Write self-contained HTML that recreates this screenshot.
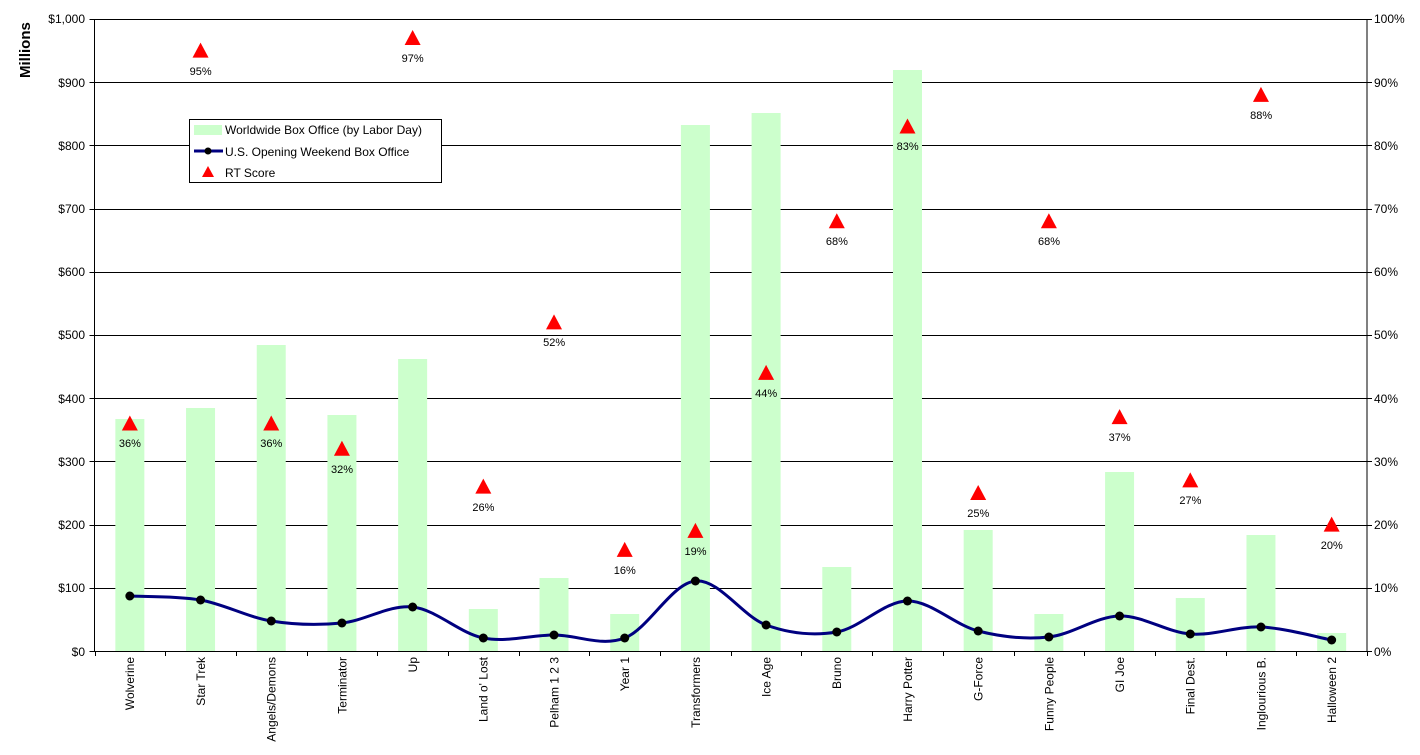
<!DOCTYPE html>
<html><head><meta charset="utf-8"><style>
html,body{margin:0;padding:0;background:#fff;}
svg{display:block;font-family:"Liberation Sans",Arial,sans-serif;}
</style></head><body>
<svg id="s" width="1420" height="755" viewBox="0 0 1420 755" xmlns="http://www.w3.org/2000/svg">
<g id="grid"></g>
<g id="bars"></g>
<g id="line"></g>
<g id="tri"></g>
<g font-size="12" fill="#000" text-anchor="end">
<text x="85" y="23">$1,000</text><text x="85" y="87">$900</text><text x="85" y="150">$800</text><text x="85" y="213">$700</text><text x="85" y="276">$600</text><text x="85" y="339">$500</text><text x="85" y="403">$400</text><text x="85" y="466">$300</text><text x="85" y="529">$200</text><text x="85" y="592">$100</text><text x="85" y="656">$0</text>
</g>
<g font-size="12" fill="#000">
<text x="1374" y="23">100%</text><text x="1374" y="87">90%</text><text x="1374" y="150">80%</text><text x="1374" y="213">70%</text><text x="1374" y="276">60%</text><text x="1374" y="339">50%</text><text x="1374" y="403">40%</text><text x="1374" y="466">30%</text><text x="1374" y="529">20%</text><text x="1374" y="592">10%</text><text x="1374" y="656">0%</text>
</g>
<text transform="translate(30,78) rotate(-90)" font-size="15" font-weight="bold">Millions</text>
<g font-size="12" text-anchor="end">
<text transform="translate(134.2,657) rotate(-90)">Wolverine</text>
<text transform="translate(204.9,657) rotate(-90)">Star Trek</text>
<text transform="translate(275.6,657) rotate(-90)">Angels/Demons</text>
<text transform="translate(346.3,657) rotate(-90)">Terminator</text>
<text transform="translate(417,657) rotate(-90)">Up</text>
<text transform="translate(487.7,657) rotate(-90)">Land o' Lost</text>
<text transform="translate(558.4,657) rotate(-90)">Pelham 1 2 3</text>
<text transform="translate(629.1,657) rotate(-90)">Year 1</text>
<text transform="translate(699.8,657) rotate(-90)">Transformers</text>
<text transform="translate(770.5,657) rotate(-90)">Ice Age</text>
<text transform="translate(841.2,657) rotate(-90)">Bruno</text>
<text transform="translate(911.9,657) rotate(-90)">Harry Potter</text>
<text transform="translate(982.6,657) rotate(-90)">G-Force</text>
<text transform="translate(1053.3,657) rotate(-90)">Funny People</text>
<text transform="translate(1124,657) rotate(-90)">GI Joe</text>
<text transform="translate(1194.7,657) rotate(-90)">Final Dest.</text>
<text transform="translate(1265.4,657) rotate(-90)">Inglourious B.</text>
<text transform="translate(1336.1,657) rotate(-90)">Halloween 2</text>
</g>
<g font-size="11" text-anchor="middle">
<text x="129.9" y="447">36%</text><text x="200.6" y="75">95%</text><text x="271.3" y="447">36%</text><text x="342" y="473">32%</text><text x="412.7" y="62">97%</text><text x="483.4" y="511">26%</text><text x="554.1" y="346">52%</text><text x="624.8" y="574">16%</text><text x="695.5" y="555">19%</text><text x="766.2" y="397">44%</text><text x="836.9" y="245">68%</text><text x="907.6" y="150">83%</text><text x="978.3" y="517">25%</text><text x="1049" y="245">68%</text><text x="1119.7" y="441">37%</text><text x="1190.4" y="504">27%</text><text x="1261.1" y="119">88%</text><text x="1331.8" y="549">20%</text>
</g>
<g>
<rect x="189.5" y="119.5" width="252" height="63" fill="#fff" stroke="#000"/>
<rect x="194" y="125" width="28" height="10" fill="#ccffcc"/>
<text x="225" y="134" font-size="12">Worldwide Box Office (by Labor Day)</text>
<line x1="194" y1="151" x2="223" y2="151" stroke="#000080" stroke-width="3"/>
<circle cx="208" cy="151" r="3.5" fill="#000"/>
<text x="225" y="156" font-size="12">U.S. Opening Weekend Box Office</text>
<polygon points="208,166 202,177 214,177" fill="#ff0000"/>
<text x="225" y="177" font-size="12">RT Score</text>
</g>
</svg>
<script>
var NS="http://www.w3.org/2000/svg";
function el(p,t,a){var e=document.createElementNS(NS,t);for(var k in a)e.setAttribute(k,a[k]);document.getElementById(p).appendChild(e);return e;}
var L=94.5,R=1367,T=19,B=651,cw=(R-L)/18;
for(var i=0;i<=10;i++){var y=Math.round(T+(B-T)*i/10)+0.5;el('grid','line',{x1:L,y1:y,x2:R,y2:y,stroke:'#000','stroke-width':1});
el('grid','line',{x1:L-5,y1:y,x2:L,y2:y,stroke:'#000'});el('grid','line',{x1:R,y1:y,x2:R+5,y2:y,stroke:'#000'});}
el('grid','line',{x1:L,y1:T,x2:L,y2:B+0.5,stroke:'#000'});
el('grid','line',{x1:R,y1:T,x2:R,y2:B+0.5,stroke:'#000'});
for(var i=0;i<=18;i++){var x=Math.round(L+cw*i)+0.5;el('grid','line',{x1:x,y1:B,x2:x,y2:B+5,stroke:'#000'});}
var tops=[419,408,345,415,359,609,578,614,125,113,567,70,530,614,472,598,535,633];
var ly=[596,600,621,623,607,638,635,638,581,625,632,601,631,637,616,634,627,640];
var rt=[36,95,36,32,97,26,52,16,19,44,68,83,25,68,37,27,88,20];
var cx=[];for(var i=0;i<18;i++)cx.push(L+cw*(i+0.5));
for(var i=0;i<18;i++){el('bars','rect',{x:cx[i]-14.5,y:tops[i],width:29,height:B-tops[i],fill:'#ccffcc'});}
var d='M'+cx[0]+','+ly[0];
for(var i=0;i<17;i++){var p0=i>0?i-1:i,p3=i<16?i+2:i+1;
var c1x=cx[i]+(cx[i+1]-cx[p0])/6,c1y=ly[i]+(ly[i+1]-ly[p0])/6,c2x=cx[i+1]-(cx[p3]-cx[i])/6,c2y=ly[i+1]-(ly[p3]-ly[i])/6;
d+=' C'+c1x+','+c1y+' '+c2x+','+c2y+' '+cx[i+1]+','+ly[i+1];}
el('line','path',{d:d,fill:'none',stroke:'#000080','stroke-width':3});
for(var i=0;i<18;i++)el('line','circle',{cx:cx[i],cy:ly[i],r:4.5,fill:'#000'});
for(var i=0;i<18;i++){var y=B-rt[i]*6.32,x=cx[i];el('tri','polygon',{points:x+','+(y-8)+' '+(x-8)+','+(y+7)+' '+(x+8)+','+(y+7),fill:'#ff0000'});}
</script>
</body></html>
